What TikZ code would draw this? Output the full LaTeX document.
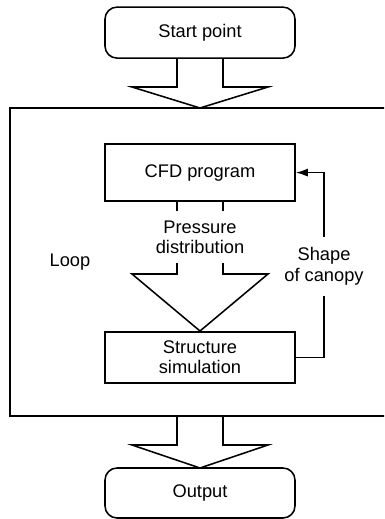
\documentclass[tikz,border=0pt]{standalone}
\usepackage{fontspec}
\setmainfont{Liberation Sans}
\usetikzlibrary{arrows.meta}

\tikzset{
    termbox/.style={draw, rounded corners=0.3cm, minimum width=4.75cm, minimum height=1.25cm},
    procbox/.style={draw, minimum width=4.75cm},
    feedarrow/.style={-{Latex[length=3mm,width=2mm]}}
}

\begin{document}
\begin{tikzpicture}[line width=1.1pt]
        \tikzstyle{every node}=[font=\fontsize{13}{14.5}\selectfont, align=center]
        \useasboundingbox (0,0) rectangle (9.6,12.975);
        \clip (0,0) rectangle (9.6,12.975);
        % start and loop frame
        \node[termbox, minimum height=1.275cm] (start) at (5,12.16) {Start point};
        \draw (0.25,10.275) rectangle (10,2.575);
        \draw (4.425,11.525) -- (4.425,10.8) -- (3.3,10.8) -- (5,10.275) -- (6.7,10.8) -- (5.575,10.8) -- (5.575,11.525);
        % inside the loop
        \node[procbox, minimum height=1.425cm] (cfd) at (5,8.66) {CFD program};
        \draw (4.425,7.95) -- (4.425,7.7);
        \draw (5.575,7.95) -- (5.575,7.7);
        \node (press) at (5,7.04) {Pressure\\distribution};
        \draw (4.425,6.4) -- (4.425,6.125) -- (3.3,6.125) -- (5,4.7) -- (6.7,6.125) -- (5.575,6.125) -- (5.575,6.4);
        \node[procbox, minimum height=1.275cm] (sim) at (5,4.04) {Structure\\simulation};
        \node (loop) at (1.75,6.425) {Loop};
        \node[inner ysep=7pt] (canopy) at (8.1,6.32) {Shape\\of canopy};
        \draw (sim.east) -| (canopy.south);
        \draw[feedarrow] (canopy.north) |- (cfd.east);
        % output
        \draw (4.425,2.575) -- (4.425,1.85) -- (3.3,1.85) -- (5,1.275) -- (6.7,1.85) -- (5.575,1.85) -- (5.575,2.575);
        \node[termbox] (out) at (5,0.65) {Output};
    \end{tikzpicture}
\end{document}
